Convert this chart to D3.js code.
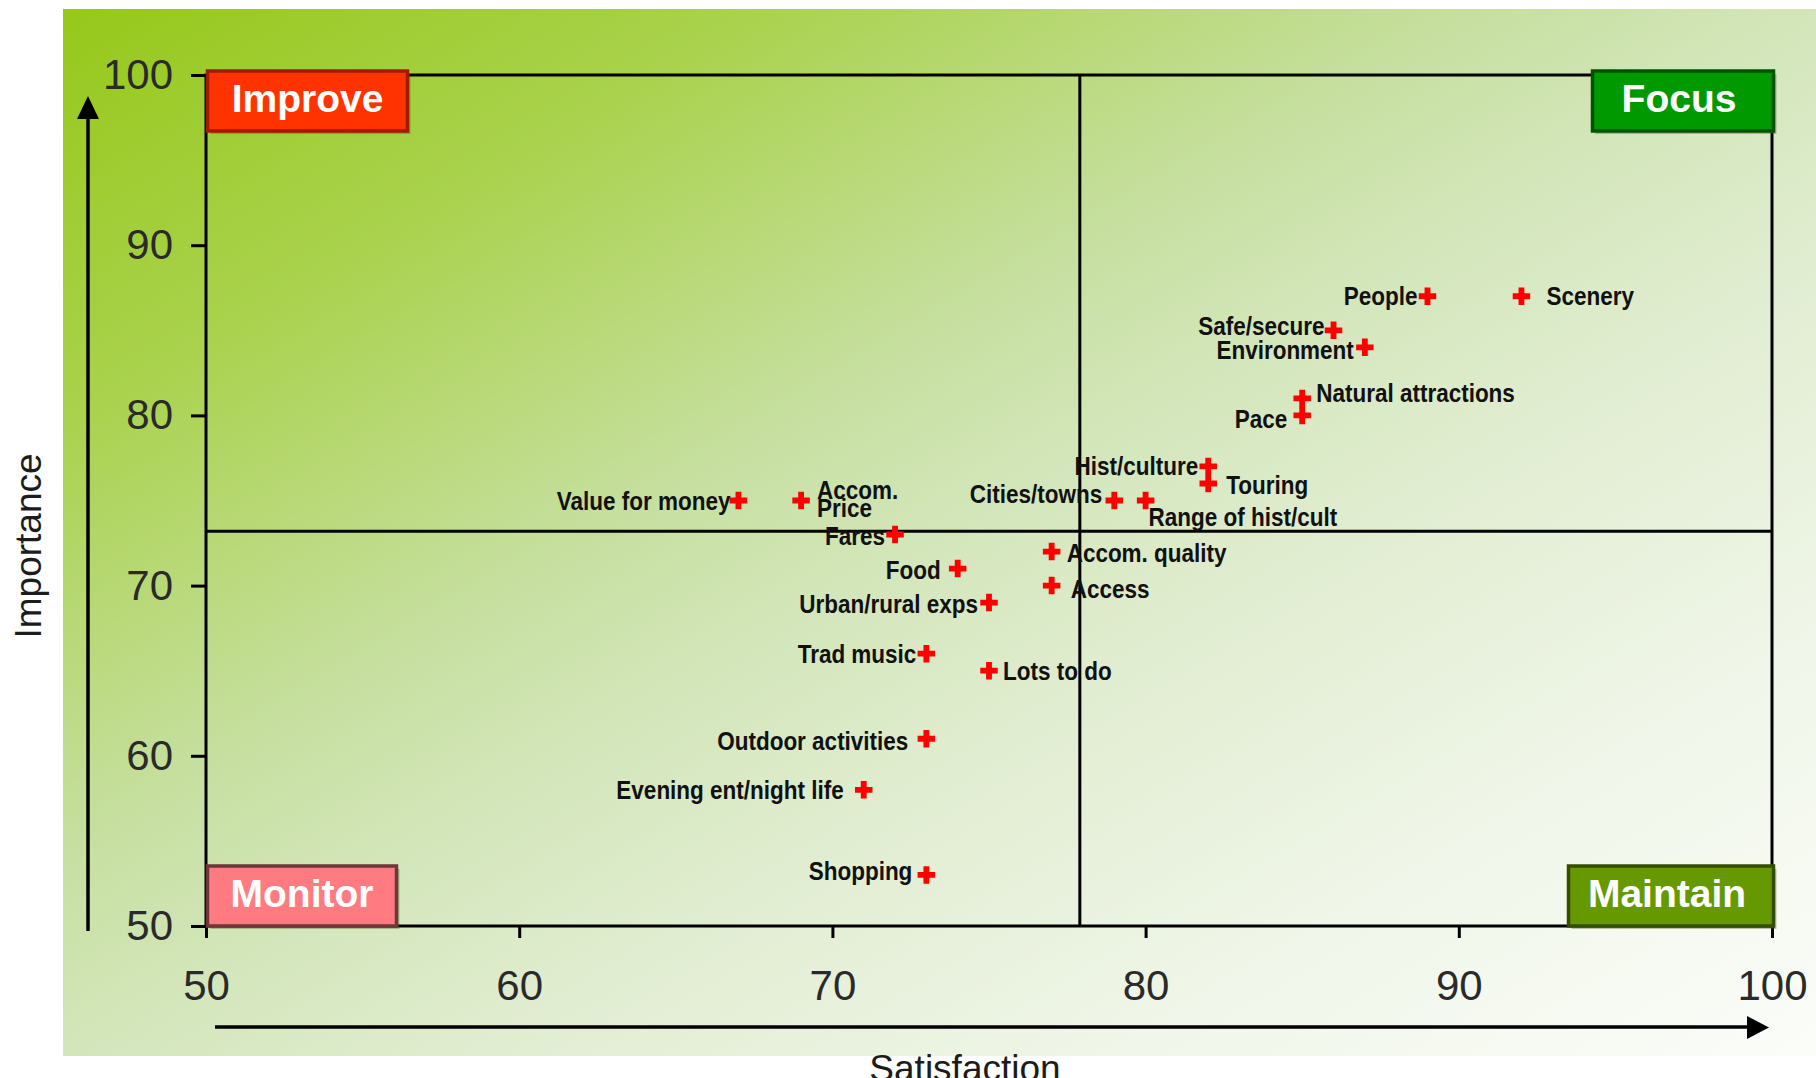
<!DOCTYPE html>
<html>
<head>
<meta charset="utf-8">
<script src="https://cdn.jsdelivr.net/npm/d3@7"></script>
<style>
  body { margin: 0; background: #fff; }
  svg { display: block; font-family: "Liberation Sans", Arial, sans-serif; }
</style>
</head>
<body>
<svg id="chart" width="1816" height="1078"></svg>
<script>
// Visitor attributes: satisfaction vs importance scores
const attributes = ["Scenery", "People", "Safe/secure", "Environment", "Natural attractions", "Pace",
  "Hist/culture", "Touring", "Cities/towns", "Range of hist/cult", "Value for money", "Accom.\nPrice",
  "Fares", "Accom. quality", "Food", "Access", "Urban/rural exps", "Trad music", "Lots to do",
  "Outdoor activities", "Evening ent/night life", "Shopping"];
const satisfaction = [92, 89, 86, 87, 85, 85, 82, 82, 79, 80, 67, 69, 72, 77, 74, 77, 75, 73, 75, 73, 71, 73];
const importance   = [87, 87, 85, 84, 81, 80, 77, 76, 75, 75, 75, 75, 73, 72, 71, 70, 69, 66, 65, 61, 58, 53];

const xTicks = [50, 60, 70, 80, 90, 100];
const yTicks = [50, 60, 70, 80, 90, 100];

// Quadrant split points
const satisfactionDivider = 77.9;
const importanceDivider = 73.2;

const quadrantNames = ["Improve", "Focus", "Monitor", "Maintain"];

// Label side and offset (text centre relative to marker), per attribute
const labelPlacement = [
  ["start", 25, 0], ["end", -10, 0], ["end", -9, -4], ["end", -11, 3], ["start", 14, -5], ["end", -15, 4],
  ["end", -10, 0], ["start", 18, 2], ["end", -12, -7], ["start", 3, 16], ["end", -8, 0], ["start", 16, -11],
  ["end", -10, 1], ["start", 15, 1], ["end", -17, 1], ["start", 19, 3], ["end", -11, 1], ["end", -10, 0],
  ["start", 14, 0], ["end", -18, 2], ["end", -20, 0], ["end", -14, -4]
];

// Quadrant badge styling: [corner, width, fill, edge]
const quadrantStyle = [
  ["tl", 200, "#ff3300", "#a01c00"],
  ["tr", 181, "#009900", "#005400"],
  ["bl", 189, "#ff7a81", "#6e3636"],
  ["br", 205, "#669900", "#344e00"]
];

const svg = d3.select("#chart");
const W = 1816;

// Background panel gradient
const defs = svg.append("defs");
const grad = defs.append("linearGradient").attr("id", "bg")
  .attr("x1", 0).attr("y1", 0).attr("x2", 1).attr("y2", 1);
[[0, "#96c81a"], [0.2, "#aad24e"], [0.4, "#c6df9f"], [0.5, "#d3e6ba"],
 [0.62, "#e1edd1"], [0.8, "#f0f6e9"], [1, "#fbfdf9"]].forEach(([o, c]) =>
  grad.append("stop").attr("offset", o).attr("stop-color", c));

svg.append("rect").attr("x", 63).attr("y", 9).attr("width", W - 63).attr("height", 1047)
  .attr("fill", "url(#bg)");

const x = d3.scaleLinear().domain([50, 100]).range([206, 1772]);
const y = d3.scaleLinear().domain([50, 100]).range([926, 75]);

// Quadrant dividers
svg.append("line")
  .attr("x1", x(satisfactionDivider)).attr("x2", x(satisfactionDivider))
  .attr("y1", y(100)).attr("y2", y(50))
  .attr("stroke", "#000").attr("stroke-width", 3);
svg.append("line")
  .attr("x1", x(50)).attr("x2", x(100))
  .attr("y1", y(importanceDivider)).attr("y2", y(importanceDivider))
  .attr("stroke", "#000").attr("stroke-width", 3);

// Plot frame
svg.append("rect")
  .attr("x", x(50)).attr("y", y(100))
  .attr("width", x(100) - x(50)).attr("height", y(50) - y(100))
  .attr("fill", "none").attr("stroke", "#000").attr("stroke-width", 3);

// Axes
function styleAxis(g) {
  g.select(".domain").remove();
  g.selectAll(".tick line").attr("stroke", "#000").attr("stroke-width", 3);
  g.selectAll(".tick text").attr("fill", "#2a2a2a")
    .style("font-size", "42px").style("font-family", "'Liberation Sans', Arial, sans-serif");
}
svg.append("g").attr("transform", `translate(${x(50)},0)`)
  .call(d3.axisLeft(y).tickValues(yTicks).tickSize(15).tickPadding(18))
  .call(styleAxis);
svg.append("g").attr("transform", `translate(0,${y(50)})`)
  .call(d3.axisBottom(x).tickValues(xTicks).tickSize(12).tickPadding(32))
  .call(styleAxis);

// Direction arrows beside the axes
svg.append("line").attr("x1", 88).attr("x2", 88).attr("y1", 931).attr("y2", 112)
  .attr("stroke", "#000").attr("stroke-width", 3.5);
svg.append("path").attr("d", "M77,119 L99,119 L88,96 Z").attr("fill", "#000");
svg.append("line").attr("x1", 215).attr("x2", 1752).attr("y1", 1027).attr("y2", 1027)
  .attr("stroke", "#000").attr("stroke-width", 3.5);
svg.append("path").attr("d", "M1747,1016 L1747,1039 L1769,1027.5 Z").attr("fill", "#000");

// Axis titles
svg.append("text").attr("transform", "translate(41,546) rotate(-90)")
  .attr("text-anchor", "middle").attr("fill", "#1c1c1c").style("font-size", "37px")
  .text("Importance");
svg.append("text").attr("x", 965).attr("y", 1081)
  .attr("text-anchor", "middle").attr("fill", "#1c1c1c").style("font-size", "37px")
  .text("Satisfaction");

// Quadrant badges
const boxH = 60;
quadrantNames.forEach((name, i) => {
  const [corner, w, fill, edge] = quadrantStyle[i];
  const left = corner[1] === "l" ? x(50) + 1.5 : x(100) + 1.5 - w;
  const top = corner[0] === "t" ? y(100) - 4 : y(50) - boxH;
  const g = svg.append("g");
  g.append("rect").attr("x", left + 3).attr("y", top + 3).attr("width", w).attr("height", boxH)
    .attr("fill", "#4a5a20").attr("opacity", 0.35);
  g.append("rect").attr("x", left).attr("y", top).attr("width", w).attr("height", boxH)
    .attr("fill", fill).attr("stroke", edge).attr("stroke-width", 3.5);
  g.append("text").attr("x", left + w / 2 - (corner[1] === "r" ? 4 : 0)).attr("y", top + 41)
    .attr("text-anchor", "middle").attr("fill", "#fff")
    .style("font-size", "39px").style("font-weight", "bold")
    .text(name);
});

// Points
const points = attributes.map((name, i) => ({
  name, s: satisfaction[i], imp: importance[i], place: labelPlacement[i]
}));

const markers = svg.append("g").selectAll("g").data(points).join("g")
  .attr("transform", d => `translate(${x(d.s)},${y(d.imp)})`);
markers.append("path")
  .attr("d", d3.symbol(d3.symbolCross, 170))
  .attr("fill", "#ff0000");
markers.append("path")
  .attr("d", d3.symbol(d3.symbolSquare, 55))
  .attr("transform", "rotate(45)")
  .attr("fill", "#ff0000");

// Point labels
const labels = svg.append("g").selectAll("text").data(points).join("text")
  .attr("transform", d => `translate(${x(d.s) + d.place[1]},${y(d.imp) + d.place[2]}) scale(0.9,1)`)
  .attr("text-anchor", d => d.place[0])
  .attr("fill", "#111")
  .style("font-size", "25px").style("font-weight", "bold");

labels.each(function (d) {
  const lines = d.name.split("\n");
  const t = d3.select(this);
  lines.forEach((ln, k) => {
    t.append("tspan").attr("x", 0).attr("y", k * 19).attr("dy", "0.36em").text(ln);
  });
});
</script>
</body>
</html>
